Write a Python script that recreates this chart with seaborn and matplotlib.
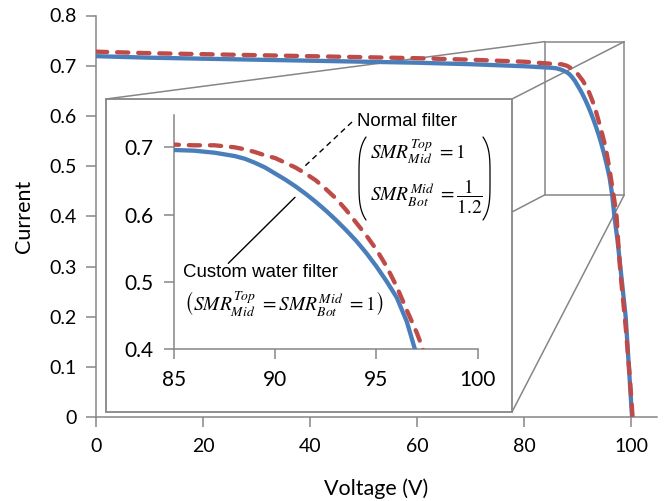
import numpy as np
import pandas as pd
import matplotlib
matplotlib.use('Agg')
import matplotlib.pyplot as plt
import seaborn as sns
from matplotlib.patches import Rectangle, ConnectionPatch
from matplotlib.ticker import FuncFormatter

# ---- data ----
custom_v = [0, 10, 20, 30, 40, 50, 60, 70, 80, 85, 86, 87, 88, 88.5, 89, 89.5, 90,
            90.5, 91, 91.5, 92, 92.5, 93, 93.5, 94, 94.5, 95, 95.5, 96, 96.5, 96.9,
            97.5, 98, 98.5, 99, 99.6, 100.2]
custom_i = [0.719, 0.716, 0.714, 0.712, 0.710, 0.708, 0.706, 0.703, 0.699, 0.696,
            0.695, 0.692, 0.687, 0.683, 0.677, 0.670, 0.661, 0.652, 0.642, 0.631,
            0.619, 0.606, 0.592, 0.577, 0.561, 0.543, 0.523, 0.501, 0.477, 0.441,
            0.400, 0.35, 0.30, 0.25, 0.20, 0.10, 0.0]
normal_v = [0, 10, 20, 30, 40, 50, 60, 70, 80, 85, 86, 87, 88, 88.5, 89, 89.5, 90,
            90.5, 91, 91.5, 92, 92.5, 93, 93.5, 94, 94.5, 95, 95.5, 96, 96.5, 97,
            97.3, 97.6, 98, 98.5, 99, 99.7, 100.3]
normal_i = [0.728, 0.725, 0.723, 0.721, 0.719, 0.717, 0.715, 0.712, 0.708, 0.704,
            0.703, 0.703, 0.700, 0.697, 0.693, 0.688, 0.684, 0.677, 0.670, 0.661,
            0.651, 0.638, 0.624, 0.607, 0.588, 0.569, 0.548, 0.523, 0.493, 0.458,
            0.424, 0.400, 0.35, 0.29, 0.235, 0.18, 0.09, 0.0]
main_xticks = [0, 20, 40, 60, 80, 100]
main_yticks = [0, 0.1, 0.2, 0.3, 0.4, 0.5, 0.6, 0.7, 0.8]
inset_xticks = [85, 90, 95, 100]
inset_yticks = [0.4, 0.5, 0.6, 0.7]
zoom_x = [83.9, 98.75]
zoom_y = [0.443, 0.748]

sns.set_theme(style='white')
plt.rcParams['font.family'] = ['Lato', 'DejaVu Sans']
plt.rcParams['mathtext.fontset'] = 'stix'
plt.rcParams['text.color'] = 'black'
plt.rcParams['axes.labelcolor'] = 'black'

BLUE = '#4A7EBB'
RED = '#BE4B48'
GRAY = '#868686'

df_c = pd.DataFrame({'Voltage': custom_v, 'Current': custom_i})
df_n = pd.DataFrame({'Voltage': normal_v, 'Current': normal_i})

W, H = 664, 501
fig = plt.figure(figsize=(W / 100, H / 100), dpi=100)
fig.patch.set_facecolor('white')


def px_axes(l, t, r, b):
    return [l / W, 1 - b / H, (r - l) / W, (b - t) / H]


fmt = FuncFormatter(lambda v, p: f"{v:g}")


def draw_curves(a):
    sns.lineplot(data=df_c, x='Voltage', y='Current', ax=a, color=BLUE, lw=3.1,
                 solid_capstyle='butt', solid_joinstyle='round', legend=False, zorder=3)
    sns.lineplot(data=df_n, x='Voltage', y='Current', ax=a, color=RED, lw=3.1,
                 linestyle=(0, (2.6, 2.3)), dash_capstyle='round', legend=False, zorder=4)


def style_axes(a, size):
    for s in ['top', 'right']:
        a.spines[s].set_visible(False)
    for s in ['left', 'bottom']:
        a.spines[s].set_color(GRAY)
        a.spines[s].set_linewidth(1.1)
    a.tick_params(axis='both', which='major', bottom=True, left=True, direction='out',
                  length=7, width=1.1, color=GRAY, labelsize=size, labelcolor='black')
    a.xaxis.set_major_formatter(fmt)
    a.yaxis.set_major_formatter(fmt)
    a.patch.set_visible(False)


# background overlay: inset box + connectors
ov_b = fig.add_axes([0, 0, 1, 1], zorder=0)
ov_b.set_xlim(0, W)
ov_b.set_ylim(H, 0)
ov_b.axis('off')
ov_b.patch.set_visible(False)

# main axes
ax = fig.add_axes(px_axes(96, 15.5, 656.7, 417.3), zorder=1)
draw_curves(ax)
ax.set_xlim(0, 104.8)
ax.set_ylim(0, 0.8)
ax.set_xticks(main_xticks)
ax.set_yticks(main_yticks)
style_axes(ax, 14)
ax.tick_params(axis='x', pad=8)
ax.tick_params(axis='y', pad=7)
ax.set_xlabel('Voltage (V)', fontsize=15.5, labelpad=17)
ax.set_ylabel('Current', fontsize=15.5, labelpad=11)

ax.add_patch(Rectangle((zoom_x[0], zoom_y[0]), zoom_x[1] - zoom_x[0], zoom_y[1] - zoom_y[0],
                       fill=False, ec=GRAY, lw=1.1, clip_on=False, zorder=1))

ov_b.add_patch(Rectangle((106, 99), 406, 313, fc='white', ec=GRAY, lw=1.3))
for (pa, pb) in [((106, 99), (zoom_x[0], zoom_y[1])),
                 ((512, 99), (zoom_x[1], zoom_y[1])),
                 ((512, 212), (zoom_x[0], zoom_y[0])),
                 ((512, 412), (zoom_x[1], zoom_y[0]))]:
    con = ConnectionPatch(xyA=pa, coordsA=ov_b.transData, xyB=pb, coordsB=ax.transData,
                          color=GRAY, lw=1.1)
    ov_b.add_artist(con)

# inset axes
axi = fig.add_axes(px_axes(174, 115, 477.7, 349.3), zorder=3)
draw_curves(axi)
axi.set_xlim(85, 100)
axi.set_ylim(0.4, 0.748)
axi.set_xticks(inset_xticks)
axi.set_yticks(inset_yticks)
style_axes(axi, 15)
axi.tick_params(axis='x', pad=8)
axi.tick_params(axis='y', pad=8)
axi.set_xlabel('')
axi.set_ylabel('')

# annotation overlay
ov = fig.add_axes([0, 0, 1, 1], zorder=4)
ov.set_xlim(0, W)
ov.set_ylim(H, 0)
ov.axis('off')
ov.patch.set_visible(False)

afont = dict(family=['Liberation Sans', 'DejaVu Sans'], fontsize=13.4, color='black')
ov.text(356.7, 121.7, 'Normal filter', ha='left', va='center', **afont)
ov.plot([352, 305], [122, 166], color='black', lw=1.0, linestyle=(0, (4, 3)))
ov.text(370, 151.7, r'$SMR_{Mid}^{Top}\ =1$', ha='left', va='center', fontsize=14)
ov.text(370, 197, r'$SMR_{Bot}^{Mid}\ =\dfrac{1}{1.2}$', ha='left', va='center', fontsize=14)

t = np.linspace(-1, 1, 60)
yy = 178.5 + 41.5 * t
ov.plot(366 - 7 * (1 - t ** 4), yy, color='black', lw=0.9)
ov.plot(483 + 7 * (1 - t ** 4), yy, color='black', lw=0.9)

ov.plot([295, 228.3], [197.3, 263.3], color='black', lw=1.0)
ov.text(183.3, 272.7, 'Custom water filter', ha='left', va='center', **afont)
ov.text(184, 303.3, r'$\left(SMR_{Mid}^{Top}\ =SMR_{Bot}^{Mid}\ =1\right)$',
        ha='left', va='center', fontsize=14)

fig.savefig('out.png', dpi=100)
